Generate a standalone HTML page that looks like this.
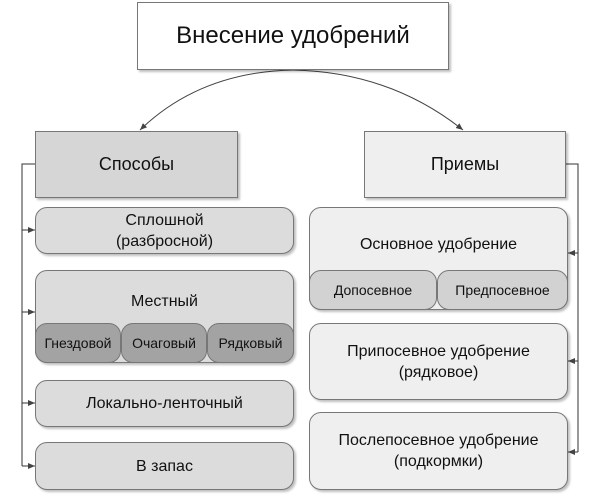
<!DOCTYPE html>
<html><head><meta charset="utf-8"><style>
body{margin:0;width:604px;height:495px;background:#fff;position:relative;overflow:hidden;font-family:"Liberation Sans","DejaVu Sans",sans-serif;color:#111}
.b{position:absolute;box-sizing:border-box;border:1px solid #777;display:flex;align-items:center;justify-content:center;text-align:center;box-shadow:2px 2px 2px rgba(0,0,0,.25)}
.r{border-radius:12px;background:#dcdcdc;font-size:16px;line-height:21px}
.s{border-radius:12px;font-size:14px;box-shadow:none}
</style></head><body>
<svg width="604" height="495" style="position:absolute;left:0;top:0">
<defs><marker id="a" markerWidth="8" markerHeight="8" refX="7" refY="4" orient="auto" markerUnits="userSpaceOnUse"><path d="M0,1 L7,4 L0,7z" fill="#444"/></marker></defs>
<path d="M293,70 Q200,72 140,130" fill="none" stroke="#444" stroke-width="1" marker-end="url(#a)"/>
<path d="M293,70 Q390,72 463,130" fill="none" stroke="#444" stroke-width="1" marker-end="url(#a)"/>
<path d="M35,164 H22 V466" fill="none" stroke="#333"/>
<g stroke="#333" marker-end="url(#a)"><line x1="22" y1="230" x2="35" y2="230"/><line x1="22" y1="312" x2="35" y2="312"/><line x1="22" y1="403" x2="35" y2="403"/><line x1="22" y1="466" x2="35" y2="466"/></g>
<path d="M566,164 H578 V452" fill="none" stroke="#333"/>
<g stroke="#333" marker-end="url(#a)"><line x1="578" y1="253" x2="568" y2="253"/><line x1="578" y1="361" x2="568" y2="361"/><line x1="578" y1="452" x2="568" y2="452"/></g>
</svg>
<div class="b" style="left:137px;top:2px;width:312px;height:68px;background:#fff;font-size:24px">Внесение удобрений</div>
<div class="b" style="left:35px;top:131px;width:203px;height:67px;background:#d6d6d6;font-size:18px">Способы</div>
<div class="b" style="left:364px;top:131px;width:202px;height:67px;background:#efefef;font-size:18px">Приемы</div>

<div class="b r" style="left:35px;top:207px;width:259px;height:47px">Сплошной<br>(разбросной)</div>
<div class="b r" style="left:35px;top:270px;width:259px;height:93px;align-items:flex-start;padding-top:20px">Местный</div>
<div class="b s" style="left:35px;top:323px;width:86px;height:40px;background:#a3a3a3">Гнездовой</div>
<div class="b s" style="left:121px;top:323px;width:86px;height:40px;background:#a3a3a3">Очаговый</div>
<div class="b s" style="left:207px;top:323px;width:87px;height:40px;background:#a3a3a3">Рядковый</div>
<div class="b r" style="left:35px;top:380px;width:259px;height:47px">Локально-ленточный</div>
<div class="b r" style="left:35px;top:442px;width:259px;height:48px">В запас</div>

<div class="b r" style="left:309px;top:207px;width:259px;height:103px;background:#efefef;align-items:flex-start;padding-top:26px">Основное удобрение</div>
<div class="b s" style="left:309px;top:270px;width:128px;height:40px;background:#d2d2d2">Допосевное</div>
<div class="b s" style="left:437px;top:270px;width:131px;height:40px;background:#d2d2d2">Предпосевное</div>
<div class="b r" style="left:309px;top:323px;width:259px;height:77px;background:#efefef">Припосевное удобрение<br>(рядковое)</div>
<div class="b r" style="left:309px;top:412px;width:259px;height:78px;background:#efefef">Послепосевное удобрение<br>(подкормки)</div>
</body></html>
